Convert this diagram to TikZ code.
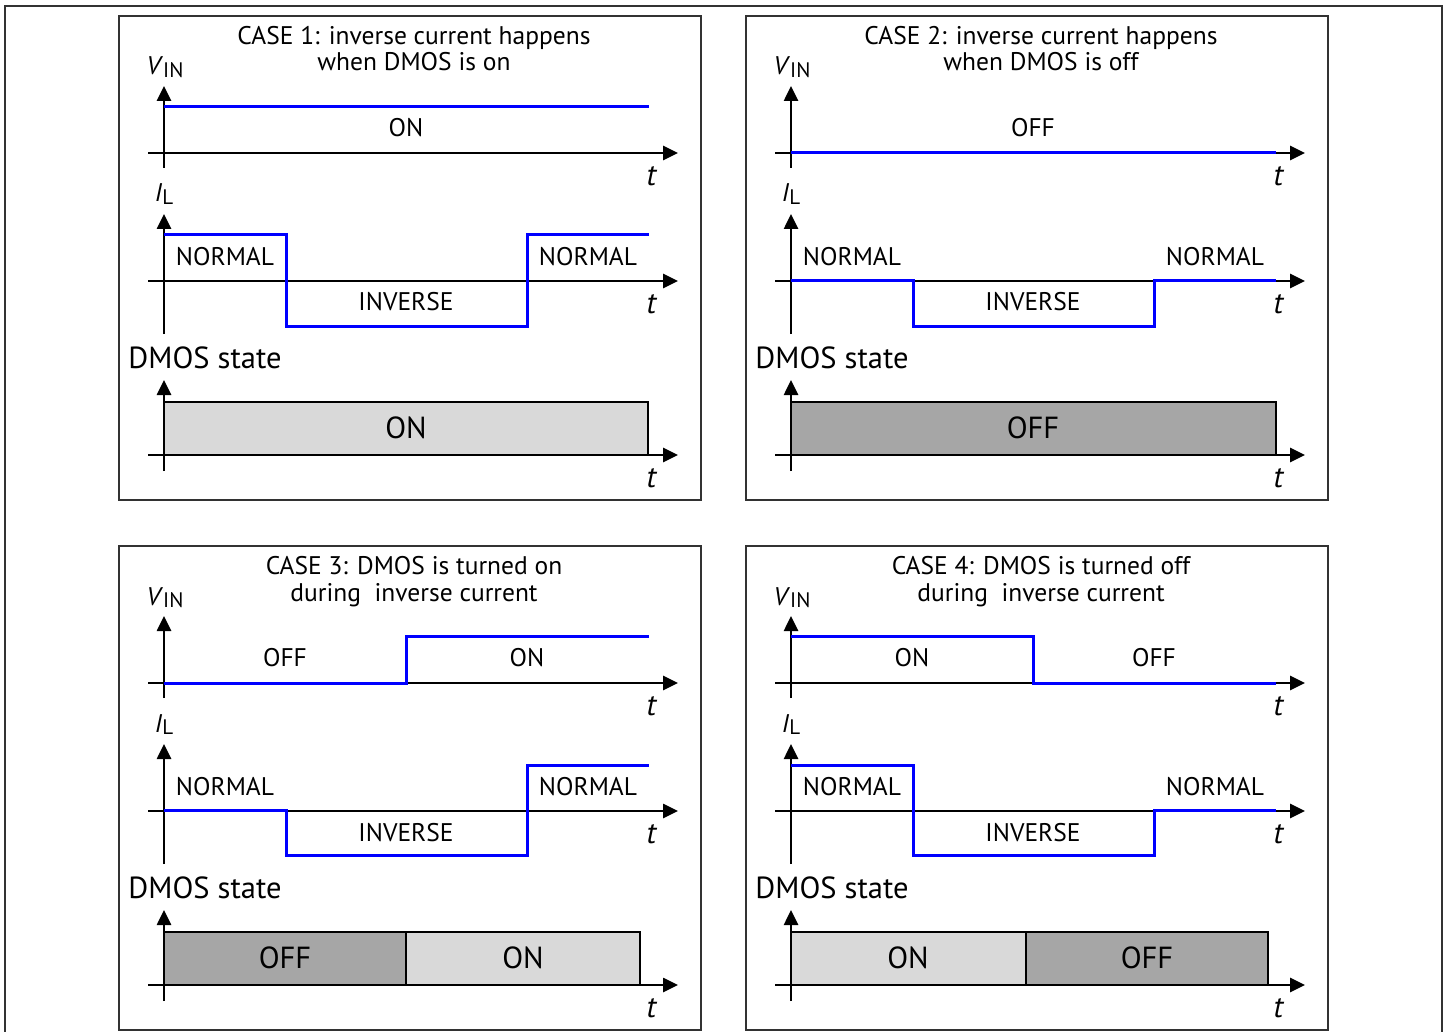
\documentclass[tikz,border=0pt]{standalone}
\usepackage{fontspec}
\setmainfont{PT Sans}
\usetikzlibrary{arrows.meta}
\pgfdeclarelayer{bg}
\pgfsetlayers{bg,main}
\definecolor{white}{RGB}{255,255,255}
\definecolor{black}{RGB}{0,0,0}
\definecolor{frame_gray}{RGB}{50,50,50}
\definecolor{pure_blue}{RGB}{0,0,255}
\definecolor{light_gray}{RGB}{217,217,217}
\definecolor{dark_gray}{RGB}{166,166,166}

\begin{document}
\begin{tikzpicture}[x=1pt,y=-1pt,
	axis/.style={black,line width=2.6pt,-{Triangle[length=15pt,width=14pt]}},
	wave/.style={pure_blue,line width=3pt},
	frame/.style={draw=frame_gray,line width=1.4pt},
	txt/.style={inner sep=0pt,text height=18pt,text depth=0pt,font=\fontsize{25.5}{30}\selectfont},
	big/.style={txt,text height=21pt,font=\fontsize{30.5}{36}\selectfont},
	state/.style={draw=black,line width=2pt}]
	\useasboundingbox (0,0) rectangle (1448,1032);
	\draw[frame] (5,6) rectangle (1442,1045);
	
	% frames, axes and axis labels of the four cases
	\foreach \n/\px/\py in {1/119/16,2/746/16,3/119/546,4/746/546}{
		\begin{scope}[shift={(\px,\py)}]
			\draw[frame] (0,0) rectangle (582,484);
			\node[txt] (vin\n) at (46,50) {\textit{V}\raisebox{-0.2ex}{\fontsize{21}{21}\selectfont IN}};
			\node[txt] (il\n) at (45,177) {\textit{I}\raisebox{-0.2ex}{\fontsize{21}{21}\selectfont L}};
			\node[big] (dmos\n) at (86,342) {DMOS state};
			\foreach \a/\z/\lo/\hi in {v/137/152/70,i/265/318/198,d/439/455/364}{
				\coordinate (\a bot\n) at (45,\lo);
				\coordinate (\a top\n) at (45,\hi);
				\coordinate (\a lft\n) at (29,\z);
				\coordinate (\a rgt\n) at (559,\z);
				\draw[axis] (\a bot\n) -- (\a top\n);
				\draw[axis] (\a lft\n) -- (\a rgt\n);
				\node[big] (\a t\n) at (533,\z+22) {\textit{t}};
			}
		\end{scope}
	}
	
	% CASE 1
	\begin{scope}[shift={(119,16)}]
		\node[txt] (title1a) at (295,20) {CASE 1: inverse current happens};
		\node[txt] (title1b) at (295,46) {when DMOS is on};
		\begin{pgfonlayer}{bg}
			\draw[state,fill=light_gray] (45,386) rectangle (529,439);
		\end{pgfonlayer}
		\node[big] (s1on) at (287,412) {ON};
		\draw[wave] (45,91) -- (530,91);
		\draw[wave] (45,219) -- (167,219) -- (167,310) -- (408,310) -- (408,219) -- (530,219);
		\node[txt] (v1on) at (287,112) {ON};
		\node[txt] (i1na) at (106,241) {NORMAL};
		\node[txt] (i1nb) at (469,241) {NORMAL};
		\node[txt] (i1inv) at (287,286) {INVERSE};
	\end{scope}
	
	% CASE 2
	\begin{scope}[shift={(746,16)}]
		\node[txt] (title2a) at (295,20) {CASE 2: inverse current happens};
		\node[txt] (title2b) at (295,46) {when DMOS is off};
		\begin{pgfonlayer}{bg}
			\draw[state,fill=dark_gray] (45,386) rectangle (530,439);
		\end{pgfonlayer}
		\node[big] (s2off) at (287,412) {OFF};
		\draw[wave] (45,137) -- (530,137);
		\draw[wave] (45,265) -- (167,265) -- (167,310) -- (408,310) -- (408,265) -- (530,265);
		\node[txt] (v2off) at (287,112) {OFF};
		\node[txt] (i2na) at (106,241) {NORMAL};
		\node[txt] (i2nb) at (469,241) {NORMAL};
		\node[txt] (i2inv) at (287,286) {INVERSE};
	\end{scope}
	
	% CASE 3
	\begin{scope}[shift={(119,546)}]
		\node[txt] (title3a) at (295,19) {CASE 3: DMOS is turned on};
		\node[txt] (title3b) at (295,46) {during\ \ inverse current};
		\begin{pgfonlayer}{bg}
			\draw[state,fill=dark_gray] (45,386) rectangle (287,439);
			\draw[state,fill=light_gray] (287,386) rectangle (521,439);
		\end{pgfonlayer}
		\node[big] (s3off) at (166,412) {OFF};
		\node[big] (s3on) at (404,412) {ON};
		\draw[wave] (45,137) -- (287,137) -- (287,90) -- (530,90);
		\draw[wave] (45,264) -- (167,264) -- (167,309) -- (408,309) -- (408,219) -- (530,219);
		\node[txt] (v3off) at (166,111) {OFF};
		\node[txt] (v3on) at (408,111) {ON};
		\node[txt] (i3na) at (106,240) {NORMAL};
		\node[txt] (i3nb) at (469,240) {NORMAL};
		\node[txt] (i3inv) at (287,286) {INVERSE};
	\end{scope}
	
	% CASE 4
	\begin{scope}[shift={(746,546)}]
		\node[txt] (title4a) at (295,19) {CASE 4: DMOS is turned off};
		\node[txt] (title4b) at (295,46) {during\ \ inverse current};
		\begin{pgfonlayer}{bg}
			\draw[state,fill=light_gray] (45,386) rectangle (280,439);
			\draw[state,fill=dark_gray] (280,386) rectangle (522,439);
		\end{pgfonlayer}
		\node[big] (s4on) at (162,412) {ON};
		\node[big] (s4off) at (401,412) {OFF};
		\draw[wave] (45,90) -- (287,90) -- (287,137) -- (530,137);
		\draw[wave] (45,219) -- (167,219) -- (167,309) -- (408,309) -- (408,264) -- (530,264);
		\node[txt] (v4on) at (166,111) {ON};
		\node[txt] (v4off) at (408,111) {OFF};
		\node[txt] (i4na) at (106,240) {NORMAL};
		\node[txt] (i4nb) at (469,240) {NORMAL};
		\node[txt] (i4inv) at (287,286) {INVERSE};
	\end{scope}
\end{tikzpicture}
\end{document}
